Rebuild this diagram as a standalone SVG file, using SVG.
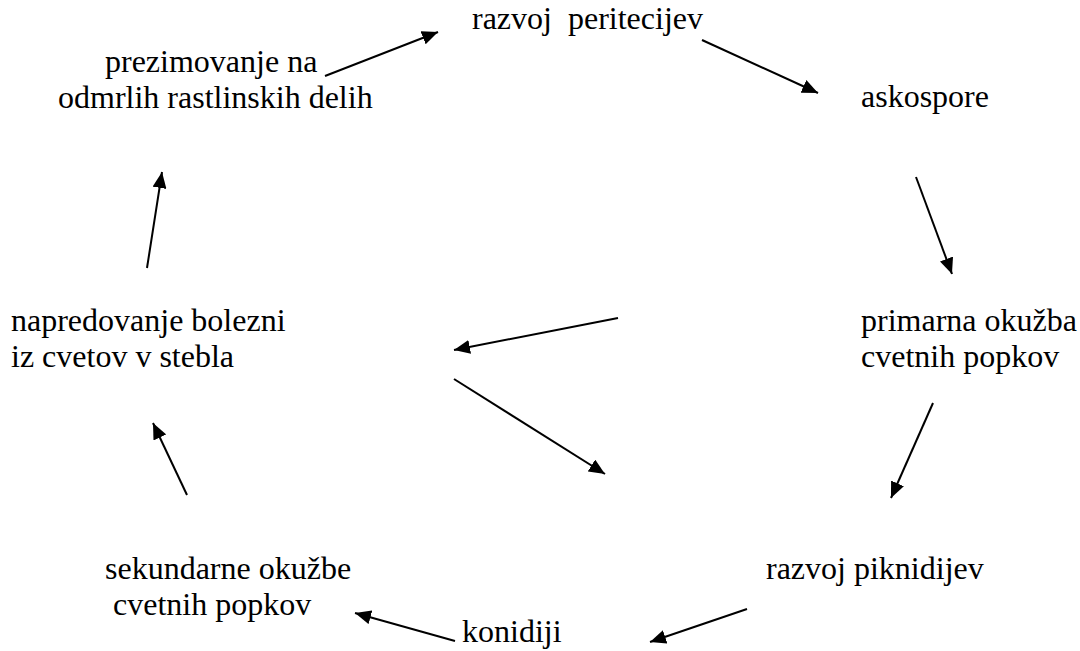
<svg xmlns="http://www.w3.org/2000/svg" width="1080" height="651" viewBox="0 0 1080 651">
<defs>
<style>
.t text{font-family:'Liberation Serif','Times New Roman',serif;font-size:32px;fill:#000}
</style>
<marker id="ah" markerUnits="userSpaceOnUse" markerWidth="18" markerHeight="14" refX="16" refY="7" orient="auto" viewBox="0 0 18 14">
<path d="M0,0 L16,7 L0,14 z" fill="#000"/>
</marker>
</defs>
<rect width="1080" height="651" fill="#fff"/>
<g class="t">
<g id="n1"><text x="472" y="29" xml:space="preserve">razvoj  peritecijev</text></g>
<g id="n2"><text x="861" y="107">askospore</text></g>
<g id="n3"><text x="861" y="331">primarna okužba</text><text x="861" y="367">cvetnih popkov</text></g>
<g id="n4"><text x="766" y="579">razvoj piknidijev</text></g>
<g id="n5"><text x="462" y="642">konidiji</text></g>
<g id="n6"><text x="105" y="579">sekundarne okužbe</text><text x="105" y="615" xml:space="preserve"> cvetnih popkov</text></g>
<g id="n7"><text x="11" y="331">napredovanje bolezni</text><text x="11" y="367">iz cvetov v stebla</text></g>
<g id="n8"><text x="105" y="72">prezimovanje na</text><text x="58" y="108">odmrlih rastlinskih delih</text></g>
</g>
<g id="connectors" stroke="#000" stroke-width="2" marker-end="url(#ah)">
<line x1="325" y1="76" x2="438" y2="32"/>
<line x1="702" y1="40" x2="818" y2="93"/>
<line x1="916" y1="177" x2="952" y2="274"/>
<line x1="618" y1="318" x2="454" y2="350"/>
<line x1="454" y1="379" x2="605" y2="474"/>
<line x1="933" y1="403" x2="891" y2="498"/>
<line x1="747" y1="609" x2="650" y2="642"/>
<line x1="455" y1="641" x2="355" y2="613"/>
<line x1="187" y1="495" x2="153" y2="423"/>
<line x1="147" y1="268" x2="162" y2="172"/>
</g>
</svg>
